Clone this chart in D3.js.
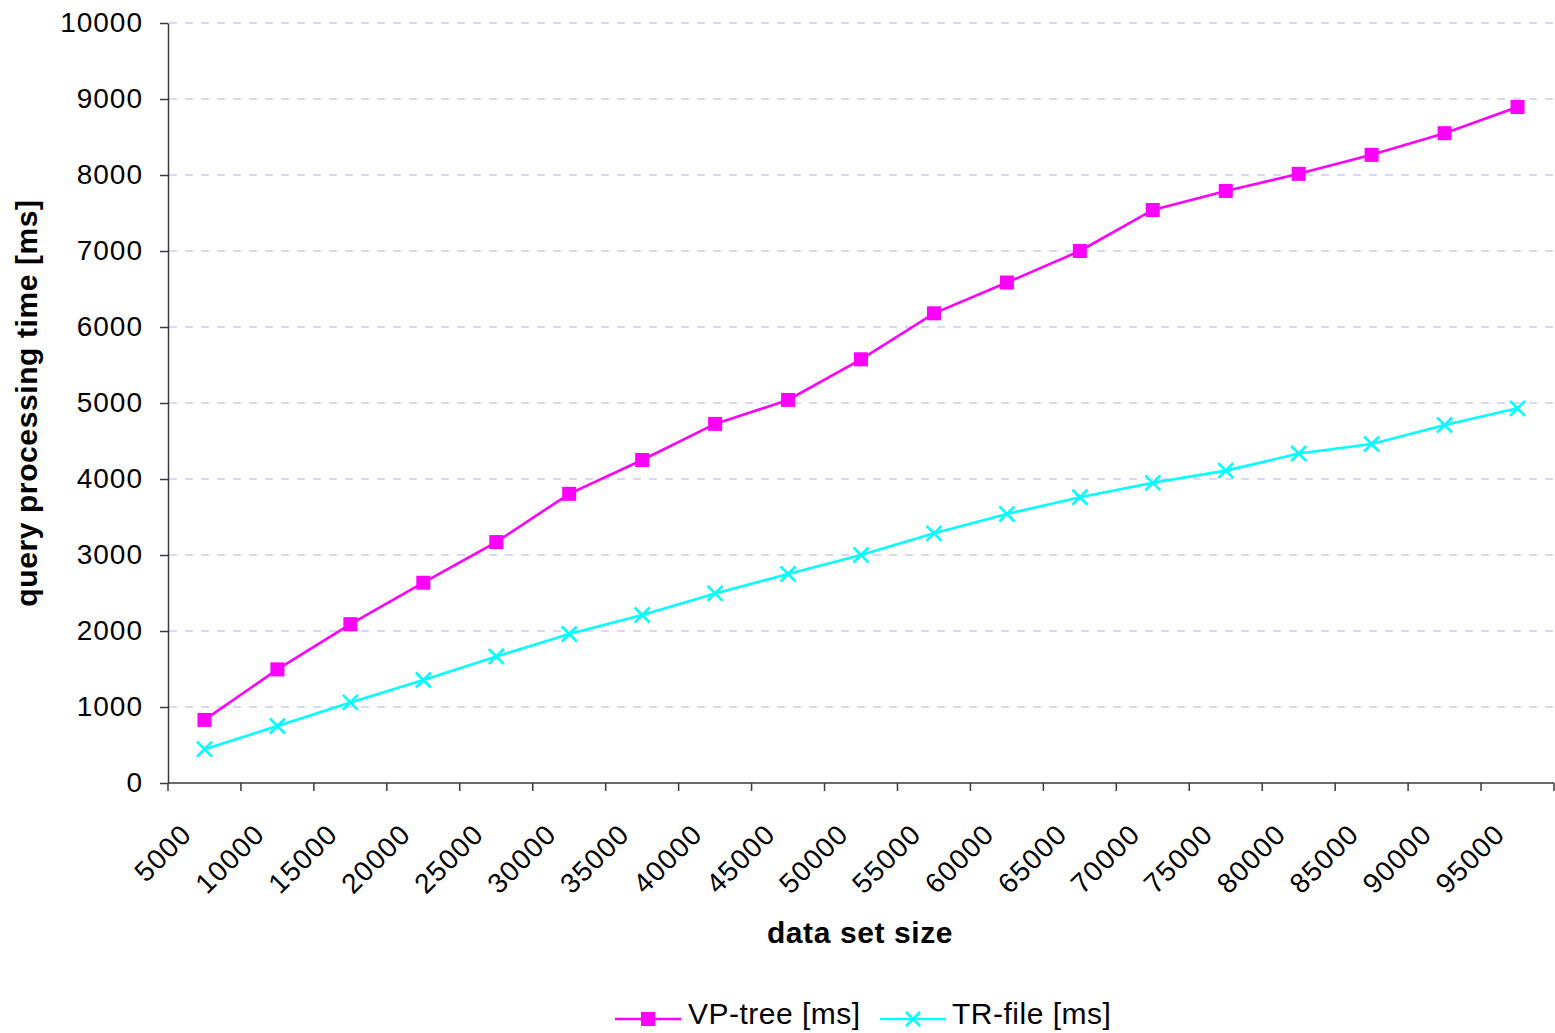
<!DOCTYPE html>
<html>
<head>
<meta charset="utf-8">
<script src="https://cdn.jsdelivr.net/npm/d3@7"></script>
<style>
  html, body { margin: 0; padding: 0; background: #fff; }
  svg { display: block; font-family: "Liberation Sans", Arial, sans-serif; }
</style>
</head>
<body>
<svg id="chart" width="1555" height="1033"></svg>
<script>
// Data set sizes (categories on the x axis)
const sizes = [5000, 10000, 15000, 20000, 25000, 30000, 35000, 40000, 45000, 50000,
               55000, 60000, 65000, 70000, 75000, 80000, 85000, 90000, 95000];

// Query processing time in milliseconds
const vpTree = [830, 1495, 2090, 2635, 3170, 3805, 4250, 4725, 5040, 5575,
                6180, 6585, 7000, 7540, 7790, 8015, 8265, 8550, 8895];
const trFile = [445, 750, 1060, 1355, 1665, 1960, 2210, 2495, 2750, 3000,
                3285, 3540, 3760, 3950, 4110, 4335, 4460, 4710, 4930];

const yTicks = [0, 1000, 2000, 3000, 4000, 5000, 6000, 7000, 8000, 9000, 10000];

const seriesNames = ["VP-tree [ms]", "TR-file [ms]"];
const seriesColors = ["#ff00ff", "#00ffff"];

const svg = d3.select("#chart");
const plotLeft = 168, plotRight = 1554, plotTop = 23, plotBottom = 783;

const x = d3.scaleBand().domain(sizes).range([plotLeft, plotRight]).paddingInner(0).paddingOuter(0);
const y = d3.scaleLinear().domain([0, 10000]).range([plotBottom, plotTop]);
const cx = d => x(d) + x.bandwidth() / 2;

// Dashed horizontal gridlines
svg.append("g")
  .selectAll("line")
  .data(yTicks.filter(t => t > 0))
  .join("line")
  .attr("x1", plotLeft + 1).attr("x2", plotRight)
  .attr("y1", d => y(d)).attr("y2", d => y(d))
  .attr("stroke", "#ccccf6")
  .attr("stroke-width", 1.3)
  .attr("stroke-dasharray", "8,8");

// Y axis
const yAxis = svg.append("g")
  .attr("transform", `translate(${plotLeft},0)`)
  .call(d3.axisLeft(y).tickValues(yTicks).tickSize(8).tickSizeOuter(0).tickPadding(17).tickFormat(d3.format("d")));
yAxis.select(".domain").attr("stroke", "#3a3a3a").attr("stroke-width", 1.5);
yAxis.selectAll(".tick line").attr("stroke", "#3a3a3a").attr("stroke-width", 1.5);
yAxis.selectAll(".tick text")
  .attr("font-size", 28).attr("fill", "#000")
  .attr("letter-spacing", 1)
  .attr("font-family", "Liberation Sans, Arial, sans-serif");

// X axis: ticks sit on category boundaries
const xAxisG = svg.append("g").attr("transform", `translate(0,${plotBottom})`);
xAxisG.append("line")
  .attr("x1", plotLeft).attr("x2", plotRight)
  .attr("stroke", "#3a3a3a").attr("stroke-width", 1.5);
const boundaries = sizes.map(s => x(s)).concat([plotRight]);
xAxisG.selectAll("line.tk")
  .data(boundaries)
  .join("line").attr("class", "tk")
  .attr("x1", d => d).attr("x2", d => d)
  .attr("y1", 0).attr("y2", 8)
  .attr("stroke", "#3a3a3a").attr("stroke-width", 1.5);
xAxisG.selectAll("text")
  .data(sizes)
  .join("text")
  .attr("text-anchor", "end")
  .attr("font-size", 28)
  .attr("letter-spacing", 1.2)
  .attr("transform", d => `translate(${cx(d) - 11},${53}) rotate(-45)`)
  .text(d => d);

// Series lines and markers
const line = d3.line().x((d, i) => cx(sizes[i])).y(d => y(d));

svg.append("path").datum(trFile)
  .attr("fill", "none").attr("stroke", seriesColors[1]).attr("stroke-width", 2.6)
  .attr("d", line);
svg.append("path").datum(vpTree)
  .attr("fill", "none").attr("stroke", seriesColors[0]).attr("stroke-width", 2.6)
  .attr("d", line);

const xMark = (g, px, py, r) => {
  g.append("path")
    .attr("d", `M${px - r},${py - r}L${px + r},${py + r}M${px - r},${py + r}L${px + r},${py - r}`)
    .attr("stroke", seriesColors[1]).attr("stroke-width", 2.6).attr("fill", "none");
};

const trG = svg.append("g");
trFile.forEach((v, i) => xMark(trG, cx(sizes[i]), y(v), 7.5));

svg.append("g")
  .selectAll("rect")
  .data(vpTree)
  .join("rect")
  .attr("x", (d, i) => cx(sizes[i]) - 7)
  .attr("y", d => y(d) - 7)
  .attr("width", 14).attr("height", 14)
  .attr("fill", seriesColors[0]);

// Axis titles
svg.append("text")
  .attr("x", 860).attr("y", 943)
  .attr("text-anchor", "middle")
  .attr("font-size", 30).attr("font-weight", "bold")
  .attr("letter-spacing", 0.6)
  .text("data set size");

svg.append("text")
  .attr("transform", `translate(37,${(plotTop + plotBottom) / 2}) rotate(-90)`)
  .attr("text-anchor", "middle")
  .attr("font-size", 30).attr("font-weight", "bold")
  .attr("letter-spacing", 0.6)
  .text("query processing time [ms]");

// Legend
const legend = svg.append("g").attr("transform", "translate(615,1019)");
const lg1 = legend.append("g");
lg1.append("line").attr("x1", 0).attr("x2", 66).attr("y1", 0).attr("y2", 0)
  .attr("stroke", seriesColors[0]).attr("stroke-width", 2.6);
lg1.append("rect").attr("x", 33 - 7).attr("y", -7).attr("width", 14).attr("height", 14)
  .attr("fill", seriesColors[0]);
lg1.append("text").attr("x", 73).attr("y", 5).attr("font-size", 30)
  .attr("letter-spacing", 0.5).text(seriesNames[0]);

const lg2 = legend.append("g").attr("transform", "translate(265,0)");
lg2.append("line").attr("x1", 0).attr("x2", 66).attr("y1", 0).attr("y2", 0)
  .attr("stroke", seriesColors[1]).attr("stroke-width", 2.6);
xMark(lg2, 33, 0, 7);
lg2.append("text").attr("x", 72).attr("y", 5).attr("font-size", 30)
  .attr("letter-spacing", 0.5).text(seriesNames[1]);
</script>
</body>
</html>
